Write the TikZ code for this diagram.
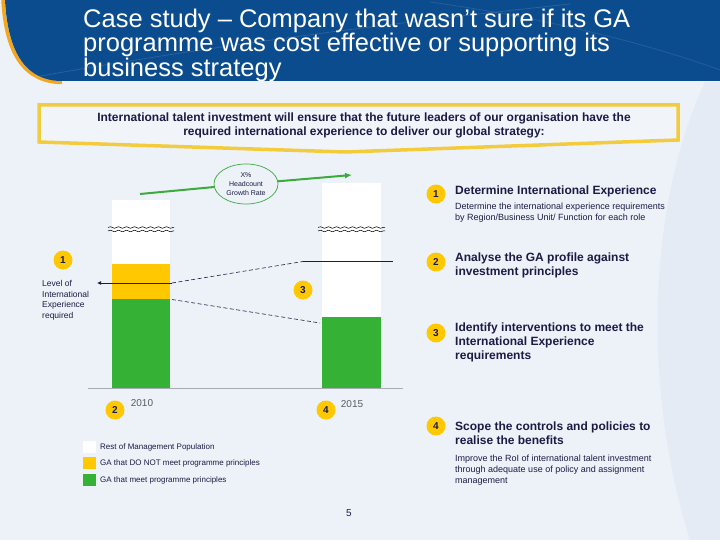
\documentclass[tikz,border=0pt]{standalone}
\usepackage{fontspec}
\setmainfont{Liberation Sans}
\usetikzlibrary{arrows.meta,decorations.pathmorphing,shapes.geometric,calc}
\definecolor{bg}{HTML}{EDF2F8}
\definecolor{bgdark}{HTML}{E4EBF4}
\definecolor{hdr}{HTML}{0B4C8E}
\definecolor{hdrorange}{HTML}{F2A71E}
\definecolor{navy}{HTML}{1B1B45}
\definecolor{gyel}{HTML}{FFC800}
\definecolor{ggrn}{HTML}{35B236}
\definecolor{boxy}{HTML}{F2CC3D}
\definecolor{boxfill}{HTML}{F1F5FA}
\definecolor{arrgrn}{HTML}{3BAA3F}
\definecolor{axisgray}{HTML}{A8ADB5}
\definecolor{yeargray}{HTML}{555A66}
\newcommand{\fsz}[2]{\fontsize{#1}{#2}\selectfont}
\begin{document}
\begin{tikzpicture}[x=1pt,y=-1pt,
  numc/.style={circle,fill=gyel,minimum size=19pt,inner sep=0pt,font=\fsz{10}{12}\bfseries,text=navy},
  headtxt/.style={anchor=north west,inner sep=0pt,align=left,font=\fsz{12}{14}\bfseries,text=navy},
  smalltxt/.style={anchor=north west,inner sep=0pt,align=left,font=\fsz{9}{11},text=navy},
  legtxt/.style={anchor=west,inner sep=0pt,font=\fsz{8}{10},text=navy},
  yeartxt/.style={inner sep=0pt,font=\fsz{10}{12},text=yeargray},
  breakline/.style={black,line width=0.5pt,decorate,decoration={snake,segment length=8pt,amplitude=0.8pt}},
  dashlink/.style={navy,line width=0.6pt,dash pattern=on 4pt off 2.5pt},
  solidlink/.style={navy,line width=0.9pt}
]
% background
\useasboundingbox (0,0) rectangle (720,540);
\fill[bg] (0,0) rectangle (720,540);
\fill[bgdark] (705,82) .. controls (650,200) and (640,380) .. (690,540) -- (720,540) -- (720,82) -- cycle;
% header band
\draw[hdrorange,line width=3.5pt] (62,82.5) .. controls (26,82) and (6,56) .. (3,0);
\fill[hdr] (5,0) -- (720,0) -- (720,81) -- (62,81) .. controls (28,81) and (8,56) .. (5,0) -- cycle;
\draw[white,opacity=0.12,line width=0.8pt] (30,78) .. controls (200,47) and (400,22) .. (570,4);
\draw[white,opacity=0.10,line width=0.8pt] (430,2) .. controls (560,20) and (660,48) .. (720,70);
\node[anchor=north west,inner sep=0pt,align=left,text=white,font=\fsz{25.5}{22.8}] (title) at (83,8.5)
  {Case study -- Company that wasn’t sure if its GA\\programme was cost effective or supporting its\\business strategy};
% statement box
\draw[boxy,line width=3.5pt,fill=boxfill,line join=miter] (39,105) -- (678,105) -- (678,140) -- (345,152) -- (39,142) -- cycle;
\node[align=center,inner sep=0pt,font=\fsz{12}{14}\bfseries,text=navy] (stmt) at (364,125)
  {International talent investment will ensure that the future leaders of our organisation have the\\required international experience to deliver our global strategy:};
% bars
\fill[white] (112,200) rectangle (170,264);
\fill[gyel] (112,264) rectangle (170,299);
\fill[ggrn] (112,299) rectangle (170,388);
\fill[white] (322,183) rectangle (381,317);
\fill[ggrn] (322,317) rectangle (381,388);
\draw[axisgray,line width=1pt] (88,388) -- (403,388);
% breaks
\draw[breakline] (108,227.5) -- (174,227.5);
\draw[breakline] (108,231) -- (174,231);
\draw[breakline] (318,227.5) -- (385,227.5);
\draw[breakline] (318,231) -- (385,231);
% connectors
\coordinate (lyel) at (172,283);
\coordinate (larr) at (97,283);
\coordinate (rknee) at (303,261.5);
\coordinate (rend) at (393,261.5);
\coordinate (lgrn) at (172,299.5);
\coordinate (rgrn) at (320,323);
\draw[solidlink,-{Latex[length=4pt,width=4pt]}] (lyel) -- (larr);
\draw[dashlink] (lyel) -- (rknee);
\draw[solidlink] (rknee) -- (rend);
\draw[dashlink] (lgrn) -- (rgrn);
% growth arrow
\node[ellipse,draw=arrgrn,line width=0.7pt,fill=bg,minimum width=64pt,minimum height=40pt,inner sep=0pt,align=center,font=\fsz{7}{9.3},text=navy] (ell) at (246,184) {X\%\\Headcount\\Growth Rate};
\coordinate (gs) at (140,194);
\coordinate (ge) at (352,175);
\draw[arrgrn,line width=2pt,-{Latex[length=7pt,width=6pt]}] (gs) -- (ell) -- (ge);
% chart labels
\node[anchor=north west,inner sep=0pt,align=left,font=\fsz{8.5}{10.7},text=navy] (lvl) at (42,280)
  {Level of\\International\\Experience\\required};
\node[yeartxt] (y2010) at (142,403) {2010};
\node[yeartxt] (y2015) at (352,404) {2015};
\node[numc] (c1) at (63,260) {1};
\node[numc] (c3) at (303,290) {3};
\node[numc] (c2) at (115,410) {2};
\node[numc] (c4) at (326,410) {4};
% right list
\node[numc] (r1) at (436,194) {1};
\node[numc] (r2) at (436,262) {2};
\node[numc] (r3) at (436,333) {3};
\node[numc] (r4) at (436,426) {4};
\node[headtxt] (h1) at (455,185.5) {Determine International Experience};
\node[smalltxt] (s1) at (455,202.8) {Determine the international experience requirements\\by Region/Business Unit/ Function for each role};
\node[headtxt] (h2) at (455,252.5) {Analyse the GA profile against\\investment principles};
\node[headtxt] (h3) at (455,322.5) {Identify interventions to meet the\\International Experience\\requirements};
\node[headtxt] (h4) at (455,421.5) {Scope the controls and policies to\\realise the benefits};
\node[smalltxt] (s4) at (455,454.5) {Improve the RoI of international talent investment\\through adequate use of policy and assignment\\management};
% legend
\fill[white] (83,441) rectangle (96,453);
\fill[gyel] (83,457) rectangle (96,469);
\fill[ggrn] (83,474) rectangle (96,486);
\node[legtxt] (l1) at (100,447) {Rest of Management Population};
\node[legtxt] (l2) at (100,463) {GA that DO NOT meet programme principles};
\node[legtxt] (l3) at (100,480) {GA that meet programme principles};
\node[inner sep=0pt,font=\fsz{10}{12},text=navy] (pg) at (349,513) {5};
\end{tikzpicture}
\end{document}
